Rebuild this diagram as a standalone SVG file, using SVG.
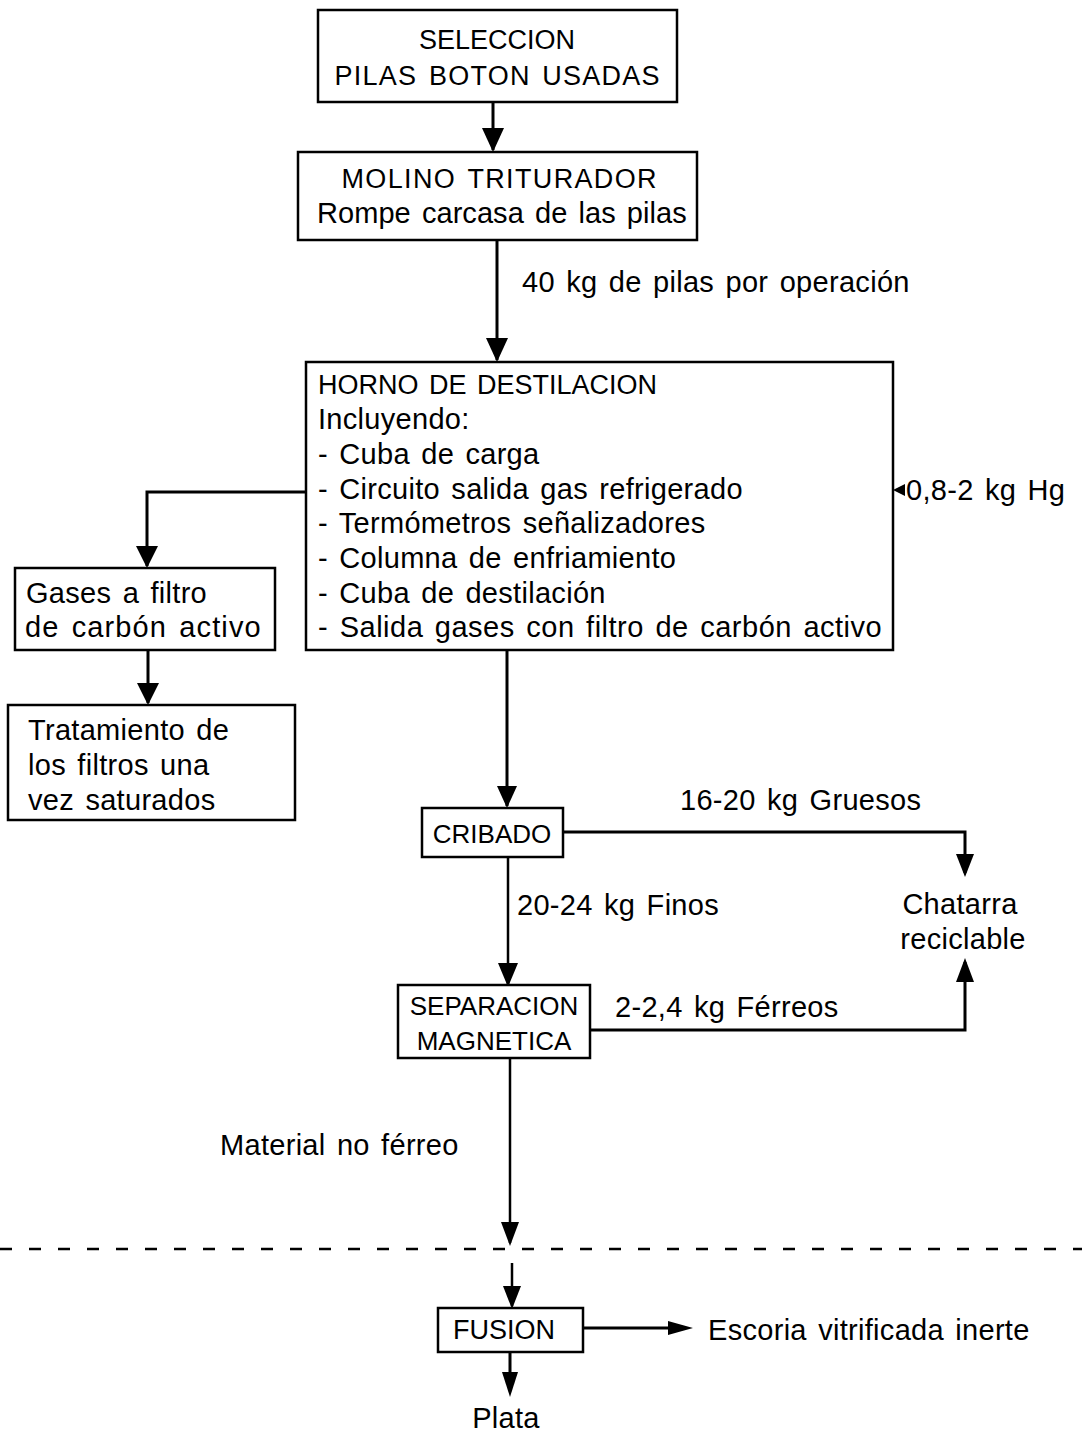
<svg xmlns="http://www.w3.org/2000/svg" width="1082" height="1434" viewBox="0 0 1082 1434">
<defs>
<style>
.box{fill:#fff;stroke:#000;stroke-width:2.5}
.t{font-family:"Liberation Sans",Arial,sans-serif;font-size:29px;word-spacing:3px;letter-spacing:0.3px;fill:#000}
.k{font-size:27px;letter-spacing:0}
.c{text-anchor:middle}
.ln{fill:none;stroke:#000;stroke-width:3}
.ln2{fill:none;stroke:#000;stroke-width:2.5}
</style>
</defs>
<rect width="1082" height="1434" fill="#fff"/>
<g id="connectors">
<line class="ln" x1="493" y1="102" x2="493" y2="150"/>
<path d="M482,128 L504,128 L493,152 Z"/>
<line class="ln" x1="497" y1="240" x2="497" y2="360"/>
<path d="M486,338 L508,338 L497,362 Z"/>
<polyline class="ln" points="306,492 147,492 147,566"/>
<path d="M136,546 L158,546 L147,568 Z"/>
<line class="ln" x1="148" y1="650" x2="148" y2="703"/>
<path d="M137,683 L159,683 L148,705 Z"/>
<line class="ln" x1="507" y1="650" x2="507" y2="806"/>
<path d="M497,786 L517,786 L507,808 Z"/>
<polyline class="ln" points="563,832 965,832 965,873"/>
<path d="M956,854 L974,854 L965,877 Z"/>
<line class="ln2" x1="508" y1="857" x2="508" y2="985"/>
<path d="M498,963 L518,963 L508,987 Z"/>
<polyline class="ln" points="590,1030 965,1030 965,962"/>
<path d="M956,982 L974,982 L965,958 Z"/>
<line class="ln2" x1="510" y1="1058" x2="510" y2="1243"/>
<path d="M501,1222 L519,1222 L510,1246 Z"/>
<line x1="0" y1="1249" x2="1082" y2="1249" stroke="#000" stroke-width="2.5" stroke-dasharray="12,17"/>
<line class="ln2" x1="512" y1="1263" x2="512" y2="1306"/>
<path d="M503,1286 L521,1286 L512,1309 Z"/>
<line class="ln" x1="583" y1="1328" x2="672" y2="1328"/>
<path d="M668,1321 L693,1328 L668,1335 Z"/>
<line class="ln" x1="510" y1="1352" x2="510" y2="1376"/>
<path d="M502,1372 L518,1372 L510,1397 Z"/>
<line class="ln2" x1="904" y1="490" x2="898" y2="490"/>
<path d="M905,484 L893,490 L905,496 Z"/>
</g>
<g id="seleccion">
<rect class="box" x="318" y="10" width="359" height="92"/>
<text class="t k c" x="497" y="49">SELECCION</text>
<text class="t k c" x="497" y="85" textLength="325" lengthAdjust="spacing">PILAS BOTON USADAS</text>
</g>
<g id="molino">
<rect class="box" x="298" y="152" width="399" height="88"/>
<text class="t k c" x="499" y="188" textLength="315" lengthAdjust="spacing">MOLINO TRITURADOR</text>
<text class="t c" x="502" y="223" textLength="370" lengthAdjust="spacing">Rompe carcasa de las pilas</text>
</g>
<text class="t" x="522" y="292">40 kg de pilas por operación</text>
<g id="horno">
<rect class="box" x="306" y="362" width="587" height="288"/>
<text class="t k" x="318" y="394">HORNO DE DESTILACION</text>
<text class="t" x="318" y="429">Incluyendo:</text>
<text class="t" x="318" y="464">- Cuba de carga</text>
<text class="t" x="318" y="499">- Circuito salida gas refrigerado</text>
<text class="t" x="318" y="533">- Termómetros señalizadores</text>
<text class="t" x="318" y="568">- Columna de enfriamiento</text>
<text class="t" x="318" y="603">- Cuba de destilación</text>
<text class="t" x="318" y="637" textLength="564" lengthAdjust="spacing">- Salida gases con filtro de carbón activo</text>
</g>
<text class="t" x="906" y="500">0,8-2 kg Hg</text>
<g id="gases">
<rect class="box" x="15" y="568" width="260" height="82"/>
<text class="t" x="26" y="603">Gases a filtro</text>
<text class="t" x="25" y="637" textLength="236" lengthAdjust="spacing">de carbón activo</text>
</g>
<g id="tratamiento">
<rect class="box" x="8" y="705" width="287" height="115"/>
<text class="t" x="28" y="740">Tratamiento de</text>
<text class="t" x="28" y="775">los filtros una</text>
<text class="t" x="28" y="810">vez saturados</text>
</g>
<g id="cribado">
<rect class="box" x="422" y="808" width="141" height="49"/>
<text class="t k c" x="492" y="843" style="font-size:26px">CRIBADO</text>
</g>
<text class="t" x="680" y="810">16-20 kg Gruesos</text>
<text class="t" x="517" y="915">20-24 kg Finos</text>
<g id="chatarra">
<text class="t c" x="960" y="914">Chatarra</text>
<text class="t c" x="963" y="949">reciclable</text>
</g>
<g id="separacion">
<rect class="box" x="398" y="985" width="192" height="73"/>
<text class="t k c" x="494" y="1015" style="font-size:26px">SEPARACION</text>
<text class="t k c" x="494" y="1050" style="font-size:26px">MAGNETICA</text>
</g>
<text class="t" x="615" y="1017">2-2,4 kg Férreos</text>
<text class="t" x="220" y="1155">Material no férreo</text>
<g id="fusion">
<rect class="box" x="438" y="1308" width="145" height="44"/>
<text class="t k c" x="504" y="1339">FUSION</text>
</g>
<g id="escoria">
<text class="t" x="708" y="1340">Escoria vitrificada inerte</text>
</g>
<g id="plata">
<text class="t c" x="506" y="1428">Plata</text>
</g>
</svg>
